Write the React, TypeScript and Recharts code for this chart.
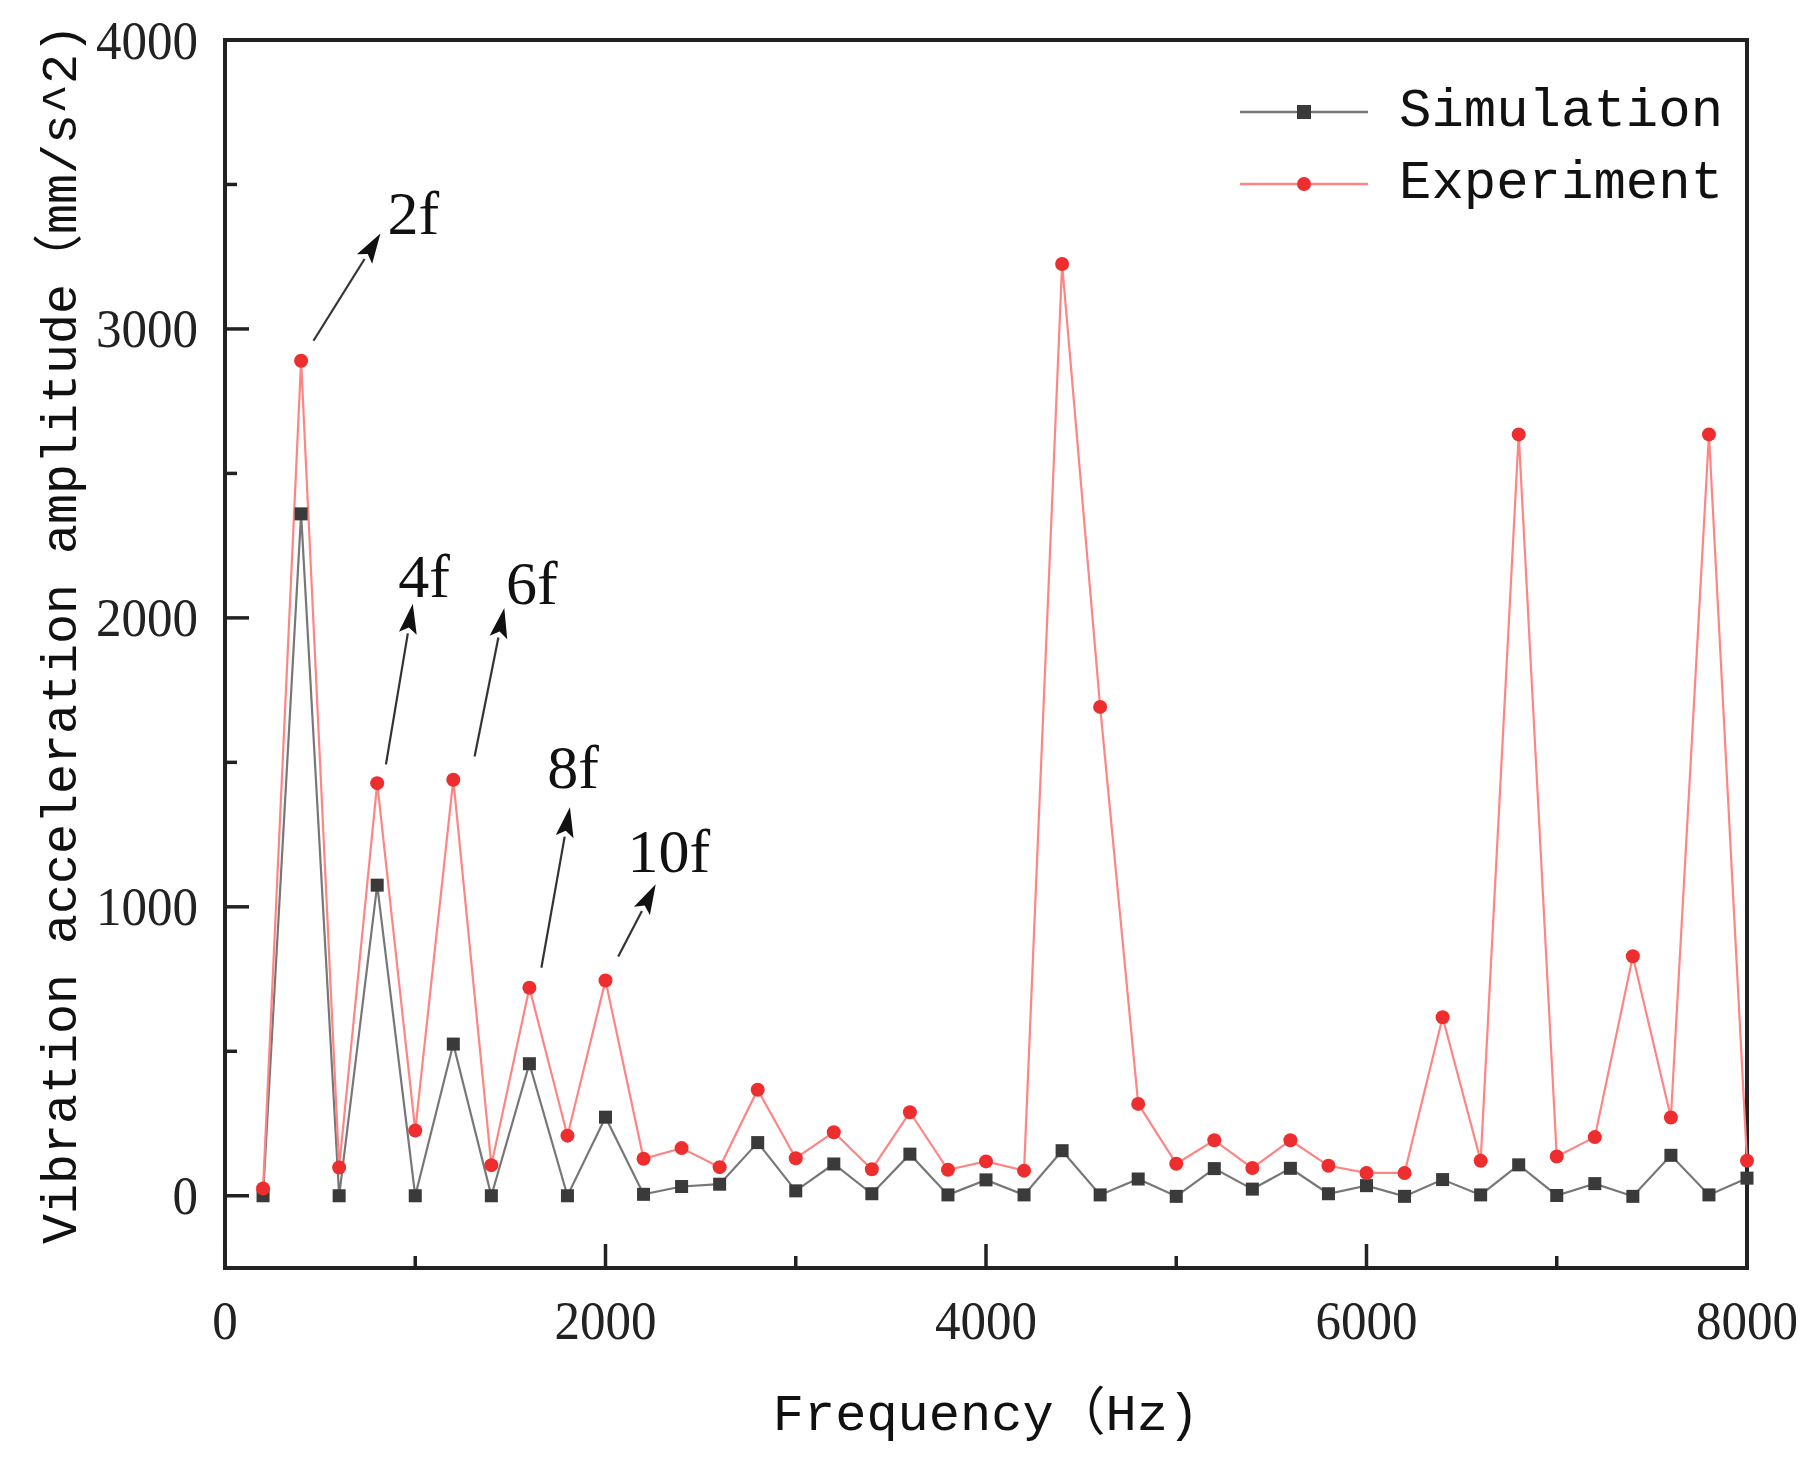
import React from "react";
import {
  LineChart,
  Line,
  XAxis,
  YAxis,
  Legend,
  Label,
  ReferenceLine,
  ReferenceDot,
  ReferenceArea,
} from "recharts";

// frequency axis (Hz)
const frequencies = [
  200, 400, 600, 800, 1000, 1200, 1400, 1600, 1800, 2000, 2200, 2400, 2600, 2800,
  3000, 3200, 3400, 3600, 3800, 4000, 4200, 4400, 4600, 4800, 5000, 5200, 5400,
  5600, 5800, 6000, 6200, 6400, 6600, 6800, 7000, 7200, 7400, 7600, 7800, 8000,
];

// vibration acceleration amplitude (mm/s^2)
const simulation = [
  0, 2360, 0, 1075, 0, 525, 0, 457, 0, 272, 5, 32, 40, 184, 17, 110, 7, 144, 3, 55,
  3, 156, 3, 58, -2, 94, 23, 95, 7, 35, -2, 56, 3, 107, 1, 42, -2, 140, 3, 61,
];
const experiment = [
  25, 2890, 98, 1428, 226, 1440, 106, 720, 208, 745, 128, 165, 99, 367, 130, 220,
  92, 289, 90, 119, 87, 3225, 1692, 318, 111, 192, 96, 192, 104, 79, 79, 618, 121,
  2635, 136, 203, 829, 271, 2635, 121,
];

const xMajorTicks = [0, 2000, 4000, 6000, 8000];
const xMinorTicks = [1000, 3000, 5000, 7000];
const yMajorTicks = [0, 1000, 2000, 3000, 4000];
const yMinorTicks = [500, 1500, 2500, 3500];

// harmonic annotations (in data units)
const harmonicNames = ["2f", "4f", "6f", "8f", "10f"];
const arrowFrom = [
  { x: 465, y: 2959 },
  { x: 846, y: 1493 },
  { x: 1312, y: 1520 },
  { x: 1663, y: 789 },
  { x: 2067, y: 828 },
];
const arrowTo = [
  { x: 817, y: 3330 },
  { x: 987, y: 2049 },
  { x: 1468, y: 2034 },
  { x: 1813, y: 1345 },
  { x: 2264, y: 1078 },
];
const labelAt = [
  { x: 990, y: 3330 },
  { x: 1046, y: 2072 },
  { x: 1613, y: 2049 },
  { x: 1829, y: 1412 },
  { x: 2333, y: 1119 },
];

const data = frequencies.map((f, i) => ({
  freq: f,
  sim: simulation[i],
  exp: experiment[i],
}));

const SERIF = "'Liberation Serif', 'Times New Roman', serif";
const MONO = "'Liberation Mono', 'Noto Sans CJK SC', monospace";
const AXIS = "#222";

// tick numbers are a slightly condensed serif in the original
const TickText = ({ x, y, anchor, value }: any) => {
  const s = String(value);
  return (
    <text
      x={x}
      y={y}
      textAnchor={anchor}
      dominantBaseline="central"
      fontFamily={SERIF}
      fontSize={55}
      fill="#222"
      textLength={s.length * 25.5}
      lengthAdjust="spacingAndGlyphs"
    >
      {s}
    </text>
  );
};

const XTick = (props: any) => (
  <TickText x={props.x} y={props.y + 52} anchor="middle" value={props.payload.value} />
);
const YTick = (props: any) => (
  <TickText x={props.x - 27} y={props.y} anchor="end" value={props.payload.value} />
);

// inward tick stubs drawn on the frame
const xStub = (len: number) => (p: any) => {
  const yb = Math.max(p.y1, p.y2);
  return <path d={`M${p.x1},${yb} L${p.x1},${yb - len}`} stroke={AXIS} strokeWidth={3.5} fill="none" />;
};
const yStub = (len: number) => (p: any) => {
  const xl = Math.min(p.x1, p.x2);
  return <path d={`M${xl},${p.y1} L${xl + len},${p.y1}`} stroke={AXIS} strokeWidth={3.5} fill="none" />;
};

const SquareDot = (props: any) => {
  const { cx, cy, index } = props;
  if (cx == null || cy == null) return <g key={index} />;
  return <rect key={index} x={cx - 6.5} y={cy - 6.5} width={13} height={13} fill="#3a3a3a" />;
};

const Arrow = (p: any) => {
  const { x1, y1, x2, y2 } = p;
  const dx = x2 - x1;
  const dy = y2 - y1;
  const len = Math.hypot(dx, dy) || 1;
  const ux = dx / len;
  const uy = dy / len;
  const hl = 30;
  const hw = 9;
  const bx = x2 - ux * hl;
  const by = y2 - uy * hl;
  const pts = `${x2},${y2} ${bx - uy * hw},${by + ux * hw} ${bx + ux * 6},${by + uy * 6} ${bx + uy * hw},${by - ux * hw}`;
  return (
    <g>
      <line x1={x1} y1={y1} x2={bx} y2={by} stroke="#333" strokeWidth={2.2} />
      <polygon points={pts} fill="#111" />
    </g>
  );
};

const LegendBox = () => {
  const rows = [
    { name: "Simulation", line: "#777", kind: "square" },
    { name: "Experiment", line: "#ff8585", kind: "circle" },
  ];
  return (
    <div style={{ fontFamily: MONO, fontSize: 54, color: "#111" }}>
      {rows.map((r) => (
        <div key={r.name} style={{ display: "flex", alignItems: "center", height: 72 }}>
          <svg width={128} height={72}>
            <line x1={0} x2={128} y1={36} y2={36} stroke={r.line} strokeWidth={2.5} />
            {r.kind === "square" ? (
              <rect x={57} y={29} width={14} height={14} fill="#3a3a3a" />
            ) : (
              <circle cx={64} cy={36} r={7} fill="#ee2e2e" />
            )}
          </svg>
          <span style={{ marginLeft: 31, lineHeight: "72px" }}>{r.name}</span>
        </div>
      ))}
    </div>
  );
};

export default function App() {
  return (
    <div style={{ width: 1800, height: 1440, position: "relative", background: "#fff" }}>
      <LineChart
        width={1800}
        height={1440}
        data={data}
        margin={{ top: 32, right: 61, bottom: 10, left: 17 }}
      >
        <XAxis
          type="number"
          dataKey="freq"
          domain={[0, 8000]}
          ticks={xMajorTicks}
          interval={0}
          height={170}
          tickSize={0}
          tickMargin={0}
          tickLine={false}
          axisLine={false}
          tick={<XTick />}
        >
          <Label
            content={(p: any) => {
              const vb = p.viewBox;
              return (
                <text
                  x={vb.x + vb.width / 2}
                  y={vb.y + 162}
                  textAnchor="middle"
                  fontFamily={MONO}
                  fontSize={52}
                  fill="#111"
                >
                  Frequency（Hz)
                </text>
              );
            }}
          />
        </XAxis>
        <YAxis
          type="number"
          domain={[-250, 4000]}
          ticks={yMajorTicks}
          interval={0}
          width={200}
          tickSize={0}
          tickMargin={0}
          tickLine={false}
          axisLine={false}
          tick={<YTick />}
        >
          <Label
            content={(p: any) => {
              const vb = p.viewBox;
              const cx = vb.x + 37;
              const cy = vb.y + vb.height / 2 - 20;
              return (
                <text
                  x={cx}
                  y={cy}
                  transform={`rotate(-90 ${cx} ${cy})`}
                  textAnchor="middle"
                  dominantBaseline="central"
                  fontFamily={MONO}
                  fontSize={50}
                  fill="#111"
                >
                  Vibration acceleration amplitude（mm/s^2)
                </text>
              );
            }}
          />
        </YAxis>
        <Legend
          layout="vertical"
          align="center"
          verticalAlign="middle"
          wrapperStyle={{ left: 1232, top: 68, width: "auto" }}
          content={() => <LegendBox />}
        />
        {xMajorTicks.map((v) => (
          <ReferenceLine key={"xM" + v} x={v} shape={xStub(24)} />
        ))}
        {xMinorTicks.map((v) => (
          <ReferenceLine key={"xm" + v} x={v} shape={xStub(12)} />
        ))}
        {yMajorTicks.map((v) => (
          <ReferenceLine key={"yM" + v} y={v} shape={yStub(24)} />
        ))}
        {yMinorTicks.map((v) => (
          <ReferenceLine key={"ym" + v} y={v} shape={yStub(12)} />
        ))}
        <Line
          dataKey="sim"
          name="Simulation"
          stroke="#777"
          strokeWidth={2.2}
          dot={SquareDot}
          activeDot={false}
          isAnimationActive={false}
        />
        <Line
          dataKey="exp"
          name="Experiment"
          stroke="#ff8585"
          strokeWidth={2.2}
          dot={{ r: 7, fill: "#ee2e2e", stroke: "none" }}
          activeDot={false}
          isAnimationActive={false}
        />
        {harmonicNames.map((n, i) => (
          <ReferenceLine
            key={"arrow" + n}
            segment={[arrowFrom[i], arrowTo[i]]}
            shape={Arrow}
          />
        ))}
        {harmonicNames.map((n, i) => (
          <ReferenceDot
            key={"label" + n}
            x={labelAt[i].x}
            y={labelAt[i].y}
            r={0}
            shape={(p: any) => (
              <text
                x={p.cx}
                y={p.cy}
                textAnchor="middle"
                fontFamily={SERIF}
                fontSize={62}
                fill="#111"
              >
                {n}
              </text>
            )}
          />
        ))}
        <ReferenceArea
          x1={0}
          x2={8000}
          y1={-250}
          y2={4000}
          fill="none"
          fillOpacity={0}
          stroke={AXIS}
          strokeWidth={4}
        />
      </LineChart>
    </div>
  );
}
